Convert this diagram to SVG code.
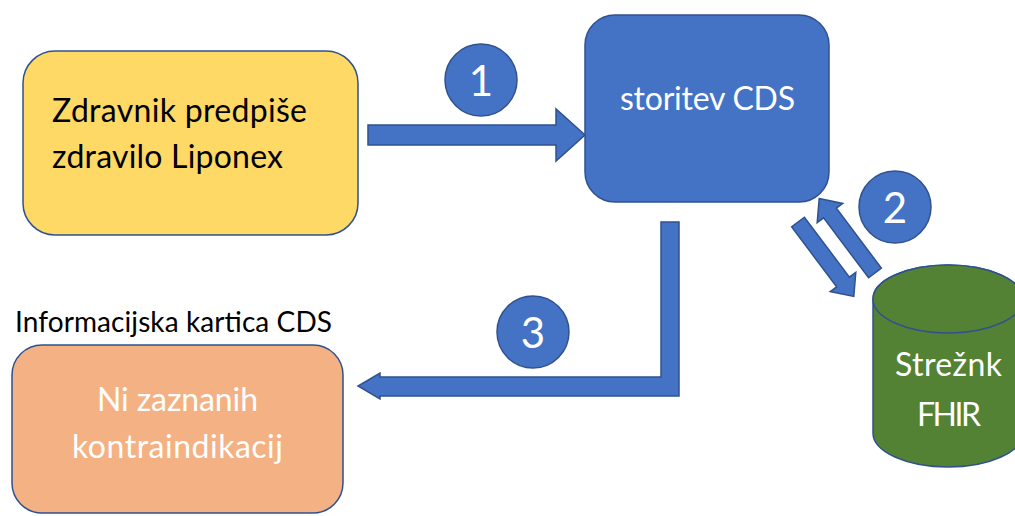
<svg xmlns="http://www.w3.org/2000/svg" width="1015" height="516" viewBox="0 0 1015 516">
<style>
.lbl{font-family:Lato,"Liberation Sans",sans-serif;font-size:32px}
.num{font-family:Lato,"Liberation Sans",sans-serif;font-size:42px;fill:#fff;text-anchor:middle}
.w{fill:#fff}
.k{fill:#000}
.arr{fill:#4472C4;stroke:#2F528F;stroke-width:1.5;stroke-linejoin:miter}
.badge{fill:#4472C4;stroke:#2F528F;stroke-width:1.5}
</style>
<rect width="1015" height="516" fill="#fff"/>
<g id="connectors">
<polygon class="arr" points="368,125 556,125 556,109 585,135 556,161 556,145 368,145"/>
<polygon class="arr" points="661,222 679,222 679,396 380,396 380,399 358,386 380,373 380,377 661,377"/>
<polygon class="arr" points="791.6,226.8 836.6,286.8 830.2,291.6 853.8,296.4 855.8,272.4 849.4,277.2 804.4,217.2"/>
<polygon class="arr" points="819.2,198.6 842.8,203.4 836.4,208.2 881.4,268.2 868.6,277.8 823.6,217.8 817.2,222.6"/>
</g>
<g id="badge1"><circle class="badge" cx="481" cy="80" r="36"/><text class="num" x="481" y="96">1</text></g>
<g id="badge2"><circle class="badge" cx="895" cy="207" r="36"/><text class="num" x="895" y="223">2</text></g>
<g id="badge3"><circle class="badge" cx="533" cy="332" r="36"/><text class="num" x="533" y="348">3</text></g>
<g id="node-doctor">
<rect x="23" y="51" width="335" height="184" rx="32" fill="#FFD966" stroke="#2F528F" stroke-width="1.5"/>
<text class="lbl k" x="52" y="122" textLength="255">Zdravnik predpiše</text>
<text class="lbl k" x="52" y="168" textLength="231">zdravilo Liponex</text>
</g>
<g id="node-cds">
<rect x="585" y="15" width="244" height="187" rx="30" fill="#4472C4" stroke="#2F528F" stroke-width="1.5"/>
<text class="lbl w" x="620" y="110" textLength="175">storitev CDS</text>
</g>
<g id="node-fhir">
<path d="M873,299 L873,433 A75,34 0 0 0 1023,433 L1023,299 A75,34 0 0 0 873,299 Z" fill="#548235" stroke="#2F528F" stroke-width="1.5"/>
<ellipse cx="948" cy="299" rx="75" ry="34" fill="#548235" stroke="#2F528F" stroke-width="1.5"/>
<text class="lbl w" x="895" y="376" textLength="107">Strežnk</text>
<text class="lbl w" x="917" y="426" textLength="64">FHIR</text>
</g>
<g id="node-card">
<text x="15" y="332" font-family="Lato,'Liberation Sans',sans-serif" font-size="28" fill="#000" textLength="317">Informacijska kartica CDS</text>
<rect x="12" y="345" width="331" height="168" rx="30" fill="#F4B183" stroke="#2F528F" stroke-width="1.5"/>
<text class="lbl w" x="97" y="411" textLength="161">Ni zaznanih</text>
<text class="lbl w" x="72" y="458" textLength="211">kontraindikacij</text>
</g>
</svg>
